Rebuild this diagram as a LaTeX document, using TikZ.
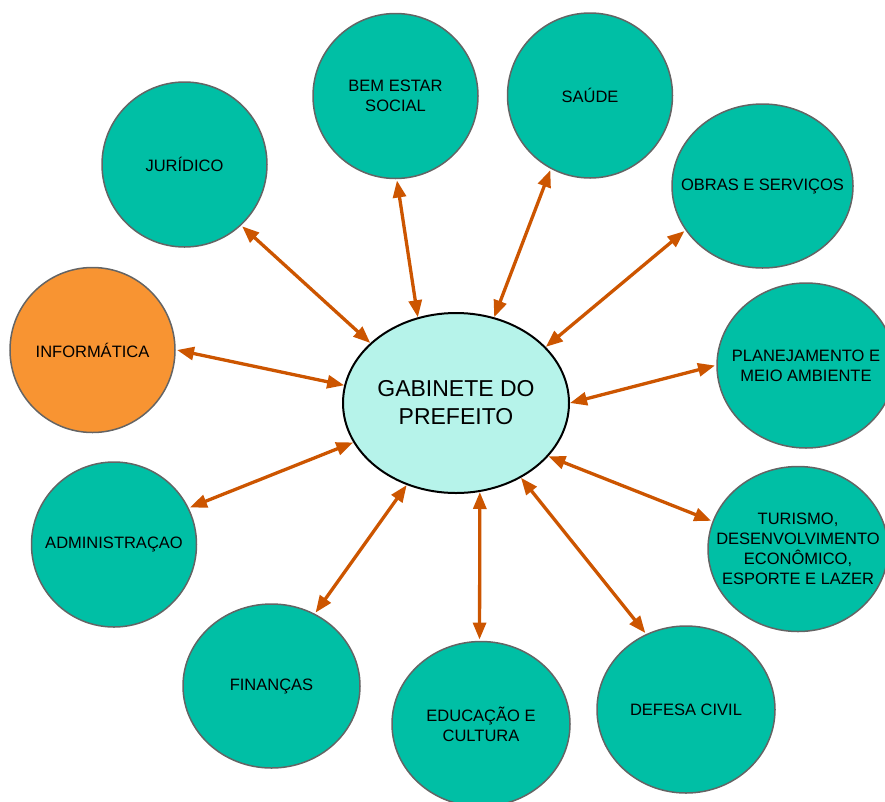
\documentclass[tikz,border=0pt]{standalone}
\usepackage{fontspec}
\setmainfont{Liberation Sans}
\usepackage{tikz}
\usetikzlibrary{shapes,arrows.meta,positioning}
\definecolor{deptteal}{RGB}{0,191,165}
\definecolor{deptorange}{RGB}{248,148,50}
\definecolor{centrecyan}{RGB}{182,243,234}
\definecolor{linkrust}{RGB}{204,85,0}
\definecolor{rimgray}{RGB}{100,100,100}
\tikzstyle{dept} = [ellipse, draw=rimgray, line width=1.5pt, fill=deptteal, inner xsep=-25pt, minimum width=165pt, minimum height=165pt, outer sep=2pt, align=center, execute at begin node=\fontsize{16.5}{20}\selectfont]
\tikzstyle{wide} = [minimum width=178pt]
\tikzstyle{centre} = [ellipse, draw=black, line width=2pt, fill=centrecyan, inner sep=0pt, minimum width=226pt, minimum height=180pt, align=center, execute at begin node=\fontsize{23}{28}\selectfont]
\tikzstyle{link} = [draw=linkrust, line width=3.3pt, >={Triangle[length=17pt,width=13pt]}, <->]

\begin{document}
\begin{tikzpicture}[x=1pt, y=-1pt]
	\useasboundingbox (0,0) rectangle (885,801);
	% Centre
	\node [centre] (gabinete) at (456,403) {GABINETE DO\\PREFEITO};
	
	% Upper half
	\node [dept] (juridico) at (184.5,164.5) {JURÍDICO};
	\node [dept] (bemestar) at (395.5,96) {BEM ESTAR\\SOCIAL};
	\node [dept] (saude) at (590,95.5) {SAÚDE};
	\node [dept, minimum width=181pt, minimum height=164pt] (obras) at (762.5,186) {OBRAS E SERVIÇOS};
	\node [dept, wide] (planejamento) at (806,365.5) {PLANEJAMENTO E\\MEIO AMBIENTE};
	\node [dept, fill=deptorange] (informatica) at (92.5,350) {INFORMÁTICA};
	
	% Lower half
	\node [dept, minimum width=180pt] (turismo) at (798,549) {TURISMO,\\DESENVOLVIMENTO\\ECONÔMICO,\\ESPORTE E LAZER};
	\node [dept, wide, minimum height=167pt] (defesa) at (686,709.5) {DEFESA CIVIL};
	\node [dept, wide] (educacao) at (481,724) {EDUCAÇÃO E\\CULTURA};
	\node [dept, minimum width=177pt, minimum height=164pt] (financas) at (271.5,686) {FINANÇAS};
	\node [dept] (administracao) at (114,544.5) {ADMINISTRAÇAO};
	
	% Links
	\path [link] (juridico.-47) -- (gabinete.145);
	\path [link] (bemestar.-89) -- (gabinete.114);
	\path [link] (saude.-118) -- (gabinete.66);
	\path [link] (obras.-150) -- (gabinete.32);
	\path [link] (planejamento.180) -- (gabinete.0.5);
	\path [link] (turismo.162) -- (gabinete.-30);
	\path [link] (defesa.118.5) -- (gabinete.-49);
	\path [link] (educacao.91) -- (gabinete.-75);
	\path [link] (financas.59.5) -- (gabinete.-121);
	\path [link] (administracao.26) -- (gabinete.-159);
	\path [link] (informatica.0) -- (gabinete.171);
\end{tikzpicture}
\end{document}
